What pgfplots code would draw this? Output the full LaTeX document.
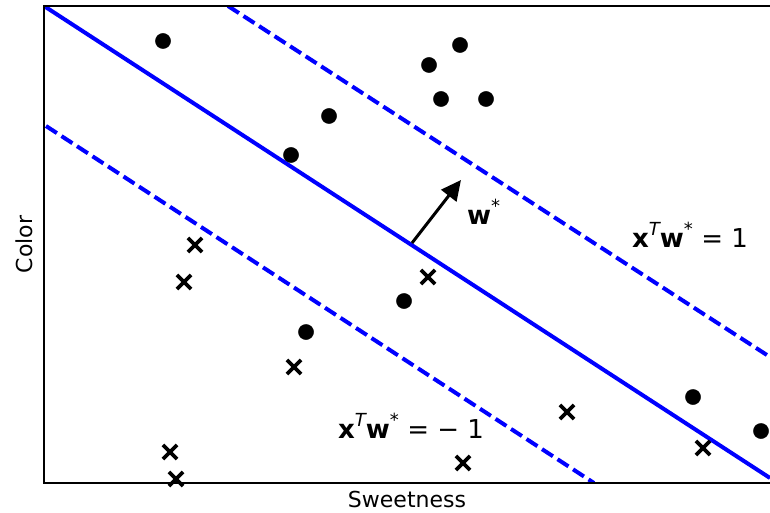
\documentclass[border=0pt]{standalone}
\usepackage{fontspec}
\setmainfont{DejaVu Sans}
\usepackage{pgfplots}
\pgfplotsset{compat=1.18}
\usetikzlibrary{arrows.meta}
\newcommand{\sups}[1]{\raisebox{0.45em}{\fontsize{18}{21}\selectfont #1}}
\newcommand{\eqfont}{\fontsize{26}{31}\selectfont}

\begin{document}
\begin{tikzpicture}
\begin{axis}[
  at={(0,0)}, anchor=south west,
  scale only axis, width=726pt, height=477pt,
  xmin=0, xmax=726, ymin=0, ymax=477,
  xtick=\empty, ytick=\empty,
  axis line style={draw=none},
  clip mode=individual,
  label style={font=\fontsize{22}{26}\selectfont},
  xlabel={Sweetness}, ylabel={Color},
  xlabel style={at={(axis description cs:0.5,-0.0356)}, anchor=center},
  ylabel style={at={(axis description cs:-0.0276,0.5)}, anchor=center},
]
% separating line and margins
\addplot[blue, line width=4pt] coordinates {(0,477)(726,5)};
\addplot[blue, line width=4pt, dash pattern=on 13pt off 5.5pt] coordinates {(184,477)(726,126)};
\addplot[blue, line width=4pt, dash pattern=on 13pt off 5.5pt] coordinates {(2,357)(550,0)};

% positive class
\addplot[only marks, mark=*, mark size=7.6pt, black] coordinates {
  (119,442)(247,328)(285,367)(385,418)(416,438)(397,384)(442,384)
  (360,182)(262,151)(649,86)(717,52)
};
% negative class
\addplot[only marks, mark=x, mark size=10pt, black, line width=3.6pt] coordinates {
  (151,238)(140,201)(384,206)(250,116)(523,71)(659,35)(126,31)(132,4)(419,20)
};

% w* arrow
\addplot[black, line width=3pt, -{Triangle[length=20pt,width=19pt]}] coordinates {(368,240)(417,303)};

\node[anchor=west, inner sep=0pt] at (axis cs:423,271) {\eqfont\textbf{w}\sups{*}};
\node[anchor=west, inner sep=0pt] at (axis cs:588,248) {\eqfont\textbf{x}\sups{\itshape T}\textbf{w}\sups{*}\ = 1};
\node[anchor=west, inner sep=0pt] at (axis cs:294,57) {\eqfont\textbf{x}\sups{\itshape T}\textbf{w}\sups{*}\ =\ −\ 1};

\draw[black, line width=1.6pt] (rel axis cs:1,1) -- (rel axis cs:0,1) -- (rel axis cs:0,0) -- (rel axis cs:1,0);
\end{axis}
\pgfresetboundingbox
\useasboundingbox (-44pt,-29pt) rectangle (726pt,483pt);
\end{tikzpicture}
\end{document}
